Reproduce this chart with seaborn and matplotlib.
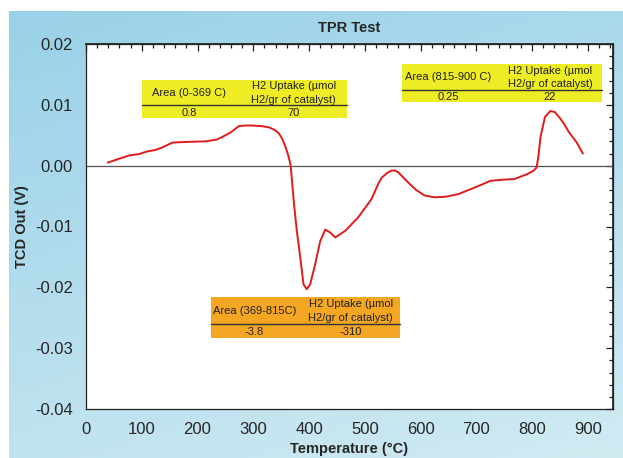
import numpy as np
import pandas as pd
import matplotlib
matplotlib.use("Agg")
import matplotlib.pyplot as plt
from matplotlib.ticker import MultipleLocator
from matplotlib.patches import Rectangle
import seaborn as sns

# ---- data ----
temperature = [39, 55, 78, 95, 108, 125, 137, 155, 180, 215, 235, 244, 260, 274, 285, 298,
               315, 328, 338, 346, 352, 358, 363, 367, 373, 378, 385, 390, 396, 402, 411,
               420, 429, 438, 447, 465, 488, 512, 524, 530, 540, 548, 554, 560, 577, 592,
               607, 625, 645, 667, 697, 725, 748, 768, 791, 803, 808, 811, 815, 823, 833,
               841, 850, 857, 866, 880, 891]
tcd_out = [0.0005, 0.0010, 0.0017, 0.0019, 0.0023, 0.0026, 0.0030, 0.0038, 0.0039, 0.0040,
           0.0043, 0.0047, 0.0055, 0.0065, 0.0066, 0.0066, 0.0065, 0.0063, 0.0059, 0.0053,
           0.0044, 0.0030, 0.0016, 0.0, -0.0063, -0.0107, -0.0157, -0.0195, -0.0203, -0.0195,
           -0.0162, -0.0124, -0.0105, -0.0110, -0.0118, -0.0107, -0.0085, -0.0055, -0.0030,
           -0.0020, -0.0012, -0.0008, -0.0008, -0.0011, -0.0027, -0.0040, -0.0049, -0.0052,
           -0.0051, -0.0047, -0.0036, -0.0025, -0.0023, -0.0022, -0.0014, -0.0008, -0.0003,
           0.0014, 0.0047, 0.0080, 0.0090, 0.0088, 0.0078, 0.0069, 0.0055, 0.0038, 0.0020]

box_area_labels = ["Area (0-369 C)", "Area (815-900 C)", "Area (369-815C)"]
box_area_values = ["0.8", "0.25", "-3.8"]
box_uptake_label = "H2 Uptake (\u00b5mol\nH2/gr of catalyst)"
box_uptake_values = ["70", "22", "-310"]

title = "TPR Test"
xlabel = "Temperature (\u00b0C)"
ylabel = "TCD Out (V)"

df = pd.DataFrame({"T": temperature, "V": tcd_out})

sns.set_theme(style="white")
plt.rcParams["font.family"] = ["Liberation Sans", "DejaVu Sans"]

W, H = 623, 458
fig = plt.figure(figsize=(W / 100, H / 100), dpi=100)
fig.patch.set_facecolor("white")

# gradient background
bg = fig.add_axes([9 / W, 0, 1 - 9 / W, 1 - 11 / H])
bg.set_axis_off()
c1 = np.array([0.60, 0.82, 0.91])
c2 = np.array([0.82, 0.92, 0.95])
yy, xx = np.mgrid[0:1:200j, 0:1:200j]
t = np.clip(0.7 * yy + 0.3 * xx, 0, 1)[..., None]
img = c1 * (1 - t) + c2 * t
bg.imshow(img, aspect="auto", extent=[0, 1, 0, 1], origin="upper")

def px_x(px):
    return px / W

def px_y(py):
    return 1 - py / H

ax = fig.add_axes([px_x(86), px_y(409), (613 - 86) / W, (409 - 44) / H])
ax.set_facecolor("white")

sns.lineplot(data=df, x="T", y="V", ax=ax, color="#e01b1b", linewidth=1.4,
             sort=False, estimator=None)
ax.axhline(0, color="#555555", linewidth=0.9, zorder=1)

ax.set_xlim(0, 945)
ax.set_ylim(-0.04, 0.02)
ax.xaxis.set_major_locator(MultipleLocator(100))
ax.xaxis.set_minor_locator(MultipleLocator(20))
ax.yaxis.set_major_locator(MultipleLocator(0.01))
ax.yaxis.set_minor_locator(MultipleLocator(0.002))
ax.yaxis.set_major_formatter(matplotlib.ticker.FuncFormatter(lambda v, p: f"{v:.2f}"))
ax.tick_params(axis="both", which="both", top=False, right=False, labelsize=12,
               color="#222222", width=0.9)
ax.tick_params(axis="both", which="major", length=7, direction="inout", pad=6)
ax.tick_params(axis="x", which="minor", length=5, direction="inout")
ax.tick_params(axis="y", which="minor", length=3, direction="in")
for s in ax.spines.values():
    s.set_color("#222222")
    s.set_linewidth(0.9)
ax.set_xlabel("")
ax.set_ylabel("")

# top and right inward ticks
top = ax.secondary_xaxis("top")
top.xaxis.set_major_locator(MultipleLocator(100))
top.xaxis.set_minor_locator(MultipleLocator(20))
top.tick_params(which="both", direction="in", labeltop=False, color="#222222", width=0.9)
top.tick_params(which="major", length=5)
top.tick_params(which="minor", length=3)
right = ax.secondary_yaxis("right")
right.yaxis.set_major_locator(MultipleLocator(0.01))
right.yaxis.set_minor_locator(MultipleLocator(0.002))
right.tick_params(which="both", direction="in", labelright=False, color="#222222", width=0.9)
right.tick_params(which="major", length=5)
right.tick_params(which="minor", length=3)

fig.text(px_x(349), px_y(28), title, ha="center", va="center", fontsize=10.5, fontweight="bold")
fig.text(px_x(349), px_y(449), xlabel, ha="center", va="center", fontsize=10.5, fontweight="bold")
fig.text(px_x(22), px_y(227), ylabel, ha="center", va="center", fontsize=10.5,
         fontweight="bold", rotation=90)

# annotation tables (pixel geometry of the boxes)
boxes = [
    dict(x0=142, x1=347, y0=80, y1=118, line=105, c="#eeec24"),
    dict(x0=402, x1=602, y0=64, y1=102, line=90, c="#eeec24"),
    dict(x0=211, x1=400, y0=297, y1=338, line=324, c="#f5a623"),
]
for i, b in enumerate(boxes):
    fig.patches.append(Rectangle((px_x(b["x0"]), px_y(b["y1"])),
                                 (b["x1"] - b["x0"]) / W, (b["y1"] - b["y0"]) / H,
                                 transform=fig.transFigure, facecolor=b["c"],
                                 edgecolor="none", zorder=5))
    fig.add_artist(plt.Line2D([px_x(b["x0"]), px_x(b["x1"])], [px_y(b["line"])] * 2,
                              transform=fig.transFigure, color="#333333", lw=1.0, zorder=6))
    w = b["x1"] - b["x0"]
    xa = b["x0"] + 0.23 * w
    xb = b["x0"] + 0.74 * w
    ymid = (b["y0"] + b["line"]) / 2 + 0.5
    yval = (b["line"] + b["y1"]) / 2 + 1
    fig.text(px_x(xa), px_y(ymid), box_area_labels[i], ha="center", va="center",
             fontsize=8, color="#222222", zorder=7)
    fig.text(px_x(xb), px_y(ymid), box_uptake_label, ha="center", va="center",
             fontsize=8, color="#222222", zorder=7, linespacing=1.45)
    fig.text(px_x(xa), px_y(yval), box_area_values[i], ha="center", va="center",
             fontsize=8, color="#222222", zorder=7)
    fig.text(px_x(xb), px_y(yval), box_uptake_values[i], ha="center", va="center",
             fontsize=8, color="#222222", zorder=7)

fig.savefig("out.png", dpi=100)
